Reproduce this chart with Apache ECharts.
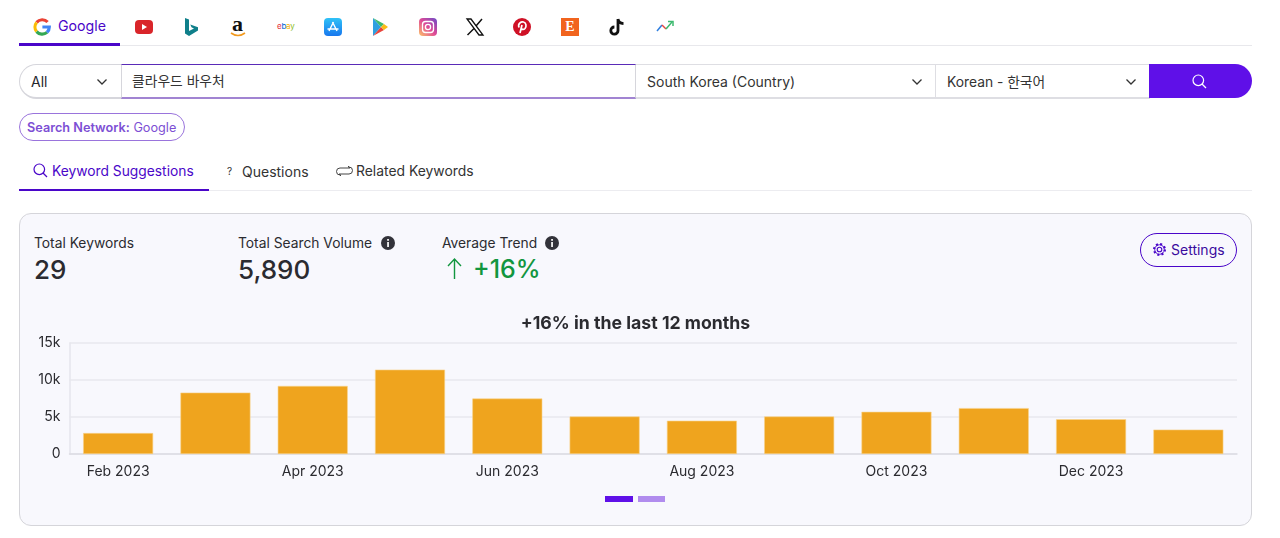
<!DOCTYPE html>
<html>
<head>
<meta charset="utf-8">
<title>Keyword Suggestions</title>
<script src="https://cdn.jsdelivr.net/npm/echarts@6/dist/echarts.min.js"></script>
<style>
  html, body { margin: 0; padding: 0; background: #fff; }
  body { width: 1280px; height: 538px; position: relative; overflow: hidden; font-family: Inter, "Noto Sans CJK KR", sans-serif; color: #26262c; }
  .box { position: absolute; box-sizing: border-box; }
  .t { position: absolute; white-space: nowrap; transform: translateY(-50%); }
  svg { position: absolute; overflow: visible; }
  .kr { font-family: Inter, "Noto Sans CJK KR", sans-serif; }
  .label { font-size: 13.8px; color: #2b2b30; }
  .big { font-size: 26px; font-weight: 500; color: #2b2b30; }
</style>
</head>
<body>

<!-- network tabs -->
<div class="box" style="left:19px;top:45px;width:1233px;height:1px;background:#e8e8ec"></div>
<div class="box" style="left:19px;top:43px;width:101px;height:3px;background:#4a06c9"></div>
<svg style="left:33px;top:18px" width="18" height="18" viewBox="0 0 18 18" fill="none" stroke-width="3.2">
  <path d="M14.6 4 A7.4 7.4 0 0 0 3.6 4.4" stroke="#ea4335"/>
  <path d="M3.6 4.4 A7.4 7.4 0 0 0 3.6 13.6" stroke="#fbbc05"/>
  <path d="M3.6 13.6 A7.4 7.4 0 0 0 14 14.4" stroke="#34a853"/>
  <path d="M14 14.4 A7.4 7.4 0 0 0 16.3 9 H9.4" stroke="#4285f4"/>
</svg>
<div class="t" style="left:58px;top:25px;font-size:14.2px;color:#4a06c9">Google</div>
<svg style="left:135px;top:20px" width="18" height="14" viewBox="0 0 18 14"><rect width="18" height="14" rx="4" fill="#d9252a"/><path d="M7 4 L12 7 L7 10Z" fill="#fff"/></svg>
<svg style="left:184px;top:18px" width="15" height="19" viewBox="0 0 15 19"><path d="M1 0 L5 1.5 V13 L10 10.5 L7.5 9.2 L6.3 6.5 L14 9.2 V12.5 L5 18 L1 15.5Z" fill="#0f7f8a"/></svg>
<div class="t" style="left:232px;top:24px;font-size:22px;font-weight:700;color:#111;font-family:'Liberation Serif'">a</div>
<svg style="left:230px;top:32px" width="17" height="5" viewBox="0 0 17 5" fill="none"><path d="M1 1 Q8 6 15 1" stroke="#f29a1f" stroke-width="1.6"/></svg>
<div class="t" style="left:277px;top:26px;font-size:8px;letter-spacing:-.3px"><span style="color:#e53238">e</span><span style="color:#0064d2">b</span><span style="color:#f5af02">a</span><span style="color:#86b817">y</span></div>
<svg style="left:324px;top:18px" width="18" height="18" viewBox="0 0 18 18"><defs><linearGradient id="ga" x1="0" y1="0" x2="0" y2="1"><stop offset="0" stop-color="#2fc2f7"/><stop offset="1" stop-color="#1877ee"/></linearGradient></defs><rect width="18" height="18" rx="4" fill="url(#ga)"/><path d="M9.5 4 L5 13 M8.5 4 L13 13 M3.5 11 H14.5" stroke="#fff" stroke-width="1.4" fill="none"/></svg>
<svg style="left:373px;top:18px" width="15" height="18" viewBox="0 0 15 18"><path d="M0 0 L8 9 L0 18Z" fill="#2f9fe0"/><path d="M0 0 L11 6 L8 9Z" fill="#3dba6f"/><path d="M0 18 L11 12 L8 9Z" fill="#e8453c"/><path d="M11 6 L15 9 L11 12 L8 9Z" fill="#f9bc15"/></svg>
<svg style="left:419px;top:18px" width="18" height="18" viewBox="0 0 18 18" fill="none"><defs><linearGradient id="gi" x1="0" y1="1" x2="1" y2="0"><stop offset="0" stop-color="#fdc468"/><stop offset=".5" stop-color="#df4996"/><stop offset="1" stop-color="#6a4bc8"/></linearGradient></defs><rect width="18" height="18" rx="4" fill="url(#gi)"/><rect x="3.5" y="3.5" width="11" height="11" rx="3" stroke="#fff" stroke-width="1.3"/><circle cx="9" cy="9" r="2.6" stroke="#fff" stroke-width="1.3"/></svg>
<svg style="left:466px;top:18px" width="18" height="18" viewBox="0 0 18 18" fill="none" stroke="#111"><path d="M1 1 H5 L17 17 H13Z" stroke-width="1.3"/><path d="M16 1 L10 8 M8 10.5 L1.5 17" stroke-width="1.5"/></svg>
<svg style="left:513px;top:18px" width="18" height="18" viewBox="0 0 18 18"><circle cx="9" cy="9" r="9" fill="#cf1126"/><path d="M7 15 L9 7 M6 9.5 C4.5 5.5 8 3.5 10.5 4 C13.5 4.7 13.6 8.5 12 10.5 C10.6 12 8.8 11.5 8.3 10.5" stroke="#fff" stroke-width="1.7" fill="none"/></svg>
<div class="box" style="left:561px;top:18px;width:18px;height:18px;background:#f1641e;color:#fff;font:700 14px/18px 'Liberation Serif';text-align:center">E</div>
<svg style="left:609px;top:18px" width="16" height="18" viewBox="0 0 16 18" fill="none"><path d="M9 1 V12.5 A3.6 3.6 0 1 1 5.4 9 M9 1 C9.4 3.6 11.4 5.4 14.5 5.6" stroke="#111" stroke-width="2.8"/></svg>
<svg style="left:656px;top:20px" width="18" height="13" viewBox="0 0 18 13" fill="none" stroke-width="1.5"><path d="M1 11 L6 5" stroke="#2f7fe0"/><path d="M6 5 L10 9" stroke="#e8453c"/><path d="M10 9 L16 2" stroke="#3dba6f"/><path d="M12 1.5 H17 V6" stroke="#3dba6f"/></svg>

<!-- search row -->
<div class="box" style="left:19px;top:64px;width:103px;height:35px;border:1px solid #d6d6dc;border-bottom-width:2px;border-right:0;border-radius:18px 0 0 18px"></div>
<div class="t" style="left:31px;top:81px;font-size:14px">All</div>
<svg style="left:97px;top:79px" width="10" height="6" fill="none"><path d="M.5 .5 L5 5 L9.5 .5" stroke="#333" stroke-width="1.3"/></svg>
<div class="box" style="left:121px;top:64px;width:515px;height:35px;border-top:1px solid #5a2bb8;border-bottom:2px solid #a184d2;border-left:1px solid #d6d6dc;border-right:1px solid #d6d6dc"></div>
<div class="t kr" style="left:132px;top:80px;font-size:13.8px;color:#333">클라우드 바우처</div>
<div class="box" style="left:636px;top:64px;width:300px;height:35px;border-top:1px solid #dedee3;border-bottom:2px solid #dedee3;border-right:1px solid #dedee3"></div>
<div class="t" style="left:647px;top:81px;font-size:14px;color:#333">South Korea (Country)</div>
<svg style="left:912px;top:79px" width="10" height="6" fill="none"><path d="M.5 .5 L5 5 L9.5 .5" stroke="#333" stroke-width="1.3"/></svg>
<div class="box" style="left:936px;top:64px;width:214px;height:35px;border-top:1px solid #dedee3;border-bottom:2px solid #dedee3"></div>
<div class="t kr" style="left:947px;top:81px;font-size:13.8px;color:#333">Korean - 한국어</div>
<svg style="left:1126px;top:79px" width="10" height="6" fill="none"><path d="M.5 .5 L5 5 L9.5 .5" stroke="#333" stroke-width="1.3"/></svg>
<div class="box" style="left:1149px;top:64px;width:103px;height:34px;background:#5f10e8;border-radius:0 18px 18px 0"></div>
<svg style="left:1192px;top:74px" width="15" height="15" fill="none" stroke="#fff" stroke-width="1.2"><circle cx="6.3" cy="6.3" r="5.3"/><path d="M10 10 L14 14"/></svg>

<!-- chip -->
<div class="box" style="left:19px;top:113px;width:166px;height:28px;border:1px solid #9a74dc;border-radius:14px"></div>
<div class="t" style="left:27px;top:127px;font-size:12.7px;color:#7d4fd4"><b style="font-weight:600">Search Network:</b> Google</div>

<!-- section tabs -->
<div class="box" style="left:19px;top:190px;width:1233px;height:1px;background:#ececf0"></div>
<div class="box" style="left:19px;top:189px;width:190px;height:2px;background:#4a06c9"></div>
<svg style="left:33px;top:163px" width="15" height="15" fill="none" stroke="#4a06c9" stroke-width="1.2"><circle cx="6.3" cy="6.3" r="5.3"/><path d="M10 10 L14 14"/></svg>
<div class="t" style="left:52px;top:171px;font-size:13.8px;color:#4a06c9">Keyword Suggestions</div>
<div class="t" style="left:227px;top:171px;font-size:10px;color:#333">?</div>
<div class="t" style="left:242px;top:171px;font-size:14px;color:#333">Questions</div>
<svg style="left:337px;top:165px" width="15" height="12" fill="none" stroke="#444" stroke-width="1"><path d="M4 10 H3 A2.6 2.6 0 0 1 3 3 H13 L11 1 M11 2 H12 A2.6 2.6 0 0 1 12 9 H2 L4 11"/></svg>
<div class="t" style="left:356px;top:171px;font-size:13.9px;color:#333">Related Keywords</div>

<!-- card -->
<div class="box" style="left:19px;top:213px;width:1233px;height:313px;background:#f8f8fd;border:1px solid #d5d5da;border-radius:12px"></div>
<div class="t label" style="left:34px;top:243px">Total Keywords</div>
<div class="t big" style="left:34px;top:269px">29</div>
<div class="t label" style="left:238px;top:243px">Total Search Volume</div>
<div class="t big" style="left:238px;top:269px">5,890</div>
<div class="t label" style="left:442px;top:243px">Average Trend</div>
<div class="t big" style="left:473px;top:269px;font-size:25px;color:#12963f">+16%</div>
<svg style="left:447px;top:258px" width="15" height="22" fill="none" stroke="#12963f" stroke-width="1.4"><path d="M7.5 21 V1 M1 8 L7.5 1 L14 8"/></svg>
<svg style="left:381px;top:236px" width="14" height="14"><circle cx="7" cy="7" r="7" fill="#33333a"/><rect x="6.2" y="6" width="1.7" height="5" fill="#fff"/><rect x="6.2" y="3" width="1.7" height="1.8" fill="#fff"/></svg>
<svg style="left:545px;top:236px" width="14" height="14"><circle cx="7" cy="7" r="7" fill="#33333a"/><rect x="6.2" y="6" width="1.7" height="5" fill="#fff"/><rect x="6.2" y="3" width="1.7" height="1.8" fill="#fff"/></svg>
<div class="box" style="left:1140px;top:233px;width:97px;height:34px;border:1px solid #4a06c9;border-radius:17px"></div>
<svg style="left:1152px;top:242px" width="15" height="15" fill="none" stroke="#4a06c9" stroke-width="1.1"><circle cx="7.5" cy="7.5" r="2.3"/><circle cx="7.5" cy="7.5" r="5.4" stroke-width="2.2" stroke-dasharray="2 2.24"/><circle cx="7.5" cy="7.5" r="4.8" stroke-width=".9"/></svg>
<div class="t" style="left:1171px;top:249px;font-size:14px;color:#3a0a9e">Settings</div>

<!-- chart -->
<div id="chart" class="box" style="left:19px;top:306px;width:1233px;height:180px"></div>

<!-- pager -->
<div class="box" style="left:605px;top:496px;width:28px;height:6px;background:#5f10e8"></div>
<div class="box" style="left:638px;top:496px;width:27px;height:6px;background:#b18cee"></div>

<script type="text/javascript">
    var months = ['Feb 2023', 'Mar 2023', 'Apr 2023', 'May 2023', 'Jun 2023', 'Jul 2023', 'Aug 2023', 'Sep 2023', 'Oct 2023', 'Nov 2023', 'Dec 2023', 'Jan 2024'];
    var volumes = [2830, 8300, 9200, 11400, 7500, 5070, 4500, 5070, 5700, 6200, 4700, 3300];
    var titleText = '+16% in the last 12 months';

    var chart = echarts.init(document.getElementById('chart'), null, { renderer: 'canvas' });

    var option = {
      animation: false,
      title: {
        text: titleText,
        left: 'center',
        top: 4,
        textStyle: { fontFamily: 'Inter', fontSize: 17.7, fontWeight: 700, color: '#2b2b30' }
      },
      grid: { left: 50.5, right: 15, top: 37, bottom: 32 },
      xAxis: {
        type: 'category',
        data: months,
        axisTick: { show: false },
        axisLine: { lineStyle: { color: '#dcdce3', width: 1.5 } },
        axisLabel: { interval: 1, margin: 11, fontFamily: 'Inter', fontSize: 14, color: '#2b2b30' }
      },
      yAxis: {
        type: 'value',
        min: 0,
        max: 15000,
        interval: 5000,
        axisLine: { show: true, lineStyle: { color: '#e6e6ec', width: 1.5 } },
        axisTick: { show: false },
        splitLine: { lineStyle: { color: '#e8e8ee', width: 1.5 } },
        axisLabel: {
          margin: 9,
          padding: [2, 0, 0, 0],
          fontFamily: 'Inter',
          fontSize: 14,
          color: '#2b2b30',
          formatter: function (v) { return v === 0 ? '0' : (v / 1000) + 'k'; }
        }
      },
      series: [{
        type: 'bar',
        data: volumes,
        barWidth: 70,
        itemStyle: { color: '#efa41e', borderColor: '#f9d48c', borderWidth: 0.6 }
      }]
    };

    chart.setOption(option);
</script>
</body>
</html>
